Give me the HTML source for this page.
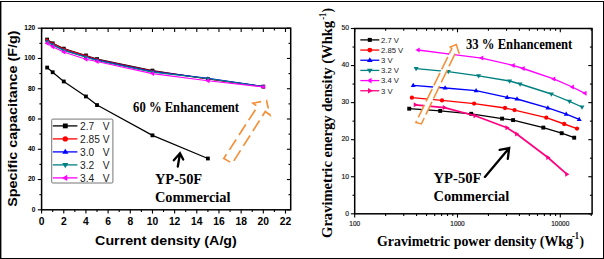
<!DOCTYPE html><html><head><meta charset="utf-8"><style>html,body{margin:0;padding:0;background:#fff;overflow:hidden}svg{display:block}</style></head><body>
<svg width="604" height="259" viewBox="0 0 604 259">
<rect x="0" y="0" width="604" height="259" fill="#fff"/>
<rect x="0" y="1" width="1.4" height="258" fill="#000"/>
<rect x="0" y="1" width="604" height="1" fill="#000"/>
<rect x="603" y="1" width="1" height="258" fill="#000"/>
<rect x="0" y="258" width="604" height="1" fill="#000"/>
<line x1="41.60" y1="209.80" x2="41.60" y2="213.60" stroke="#000" stroke-width="1.1" />
<line x1="41.60" y1="28.20" x2="41.60" y2="32.00" stroke="#000" stroke-width="1.1" />
<line x1="52.69" y1="209.80" x2="52.69" y2="212.00" stroke="#000" stroke-width="1.1" />
<line x1="52.69" y1="28.20" x2="52.69" y2="30.40" stroke="#000" stroke-width="1.1" />
<line x1="63.77" y1="209.80" x2="63.77" y2="213.60" stroke="#000" stroke-width="1.1" />
<line x1="63.77" y1="28.20" x2="63.77" y2="32.00" stroke="#000" stroke-width="1.1" />
<line x1="74.86" y1="209.80" x2="74.86" y2="212.00" stroke="#000" stroke-width="1.1" />
<line x1="74.86" y1="28.20" x2="74.86" y2="30.40" stroke="#000" stroke-width="1.1" />
<line x1="85.94" y1="209.80" x2="85.94" y2="213.60" stroke="#000" stroke-width="1.1" />
<line x1="85.94" y1="28.20" x2="85.94" y2="32.00" stroke="#000" stroke-width="1.1" />
<line x1="97.03" y1="209.80" x2="97.03" y2="212.00" stroke="#000" stroke-width="1.1" />
<line x1="97.03" y1="28.20" x2="97.03" y2="30.40" stroke="#000" stroke-width="1.1" />
<line x1="108.12" y1="209.80" x2="108.12" y2="213.60" stroke="#000" stroke-width="1.1" />
<line x1="108.12" y1="28.20" x2="108.12" y2="32.00" stroke="#000" stroke-width="1.1" />
<line x1="119.20" y1="209.80" x2="119.20" y2="212.00" stroke="#000" stroke-width="1.1" />
<line x1="119.20" y1="28.20" x2="119.20" y2="30.40" stroke="#000" stroke-width="1.1" />
<line x1="130.29" y1="209.80" x2="130.29" y2="213.60" stroke="#000" stroke-width="1.1" />
<line x1="130.29" y1="28.20" x2="130.29" y2="32.00" stroke="#000" stroke-width="1.1" />
<line x1="141.37" y1="209.80" x2="141.37" y2="212.00" stroke="#000" stroke-width="1.1" />
<line x1="141.37" y1="28.20" x2="141.37" y2="30.40" stroke="#000" stroke-width="1.1" />
<line x1="152.46" y1="209.80" x2="152.46" y2="213.60" stroke="#000" stroke-width="1.1" />
<line x1="152.46" y1="28.20" x2="152.46" y2="32.00" stroke="#000" stroke-width="1.1" />
<line x1="163.55" y1="209.80" x2="163.55" y2="212.00" stroke="#000" stroke-width="1.1" />
<line x1="163.55" y1="28.20" x2="163.55" y2="30.40" stroke="#000" stroke-width="1.1" />
<line x1="174.63" y1="209.80" x2="174.63" y2="213.60" stroke="#000" stroke-width="1.1" />
<line x1="174.63" y1="28.20" x2="174.63" y2="32.00" stroke="#000" stroke-width="1.1" />
<line x1="185.72" y1="209.80" x2="185.72" y2="212.00" stroke="#000" stroke-width="1.1" />
<line x1="185.72" y1="28.20" x2="185.72" y2="30.40" stroke="#000" stroke-width="1.1" />
<line x1="196.80" y1="209.80" x2="196.80" y2="213.60" stroke="#000" stroke-width="1.1" />
<line x1="196.80" y1="28.20" x2="196.80" y2="32.00" stroke="#000" stroke-width="1.1" />
<line x1="207.89" y1="209.80" x2="207.89" y2="212.00" stroke="#000" stroke-width="1.1" />
<line x1="207.89" y1="28.20" x2="207.89" y2="30.40" stroke="#000" stroke-width="1.1" />
<line x1="218.98" y1="209.80" x2="218.98" y2="213.60" stroke="#000" stroke-width="1.1" />
<line x1="218.98" y1="28.20" x2="218.98" y2="32.00" stroke="#000" stroke-width="1.1" />
<line x1="230.06" y1="209.80" x2="230.06" y2="212.00" stroke="#000" stroke-width="1.1" />
<line x1="230.06" y1="28.20" x2="230.06" y2="30.40" stroke="#000" stroke-width="1.1" />
<line x1="241.15" y1="209.80" x2="241.15" y2="213.60" stroke="#000" stroke-width="1.1" />
<line x1="241.15" y1="28.20" x2="241.15" y2="32.00" stroke="#000" stroke-width="1.1" />
<line x1="252.23" y1="209.80" x2="252.23" y2="212.00" stroke="#000" stroke-width="1.1" />
<line x1="252.23" y1="28.20" x2="252.23" y2="30.40" stroke="#000" stroke-width="1.1" />
<line x1="263.32" y1="209.80" x2="263.32" y2="213.60" stroke="#000" stroke-width="1.1" />
<line x1="263.32" y1="28.20" x2="263.32" y2="32.00" stroke="#000" stroke-width="1.1" />
<line x1="274.41" y1="209.80" x2="274.41" y2="212.00" stroke="#000" stroke-width="1.1" />
<line x1="274.41" y1="28.20" x2="274.41" y2="30.40" stroke="#000" stroke-width="1.1" />
<line x1="285.49" y1="209.80" x2="285.49" y2="213.60" stroke="#000" stroke-width="1.1" />
<line x1="285.49" y1="28.20" x2="285.49" y2="32.00" stroke="#000" stroke-width="1.1" />
<line x1="37.80" y1="209.80" x2="41.60" y2="209.80" stroke="#000" stroke-width="1.1" />
<line x1="286.90" y1="209.80" x2="290.70" y2="209.80" stroke="#000" stroke-width="1.1" />
<line x1="39.40" y1="194.67" x2="41.60" y2="194.67" stroke="#000" stroke-width="1.1" />
<line x1="288.50" y1="194.67" x2="290.70" y2="194.67" stroke="#000" stroke-width="1.1" />
<line x1="37.80" y1="179.53" x2="41.60" y2="179.53" stroke="#000" stroke-width="1.1" />
<line x1="286.90" y1="179.53" x2="290.70" y2="179.53" stroke="#000" stroke-width="1.1" />
<line x1="39.40" y1="164.40" x2="41.60" y2="164.40" stroke="#000" stroke-width="1.1" />
<line x1="288.50" y1="164.40" x2="290.70" y2="164.40" stroke="#000" stroke-width="1.1" />
<line x1="37.80" y1="149.27" x2="41.60" y2="149.27" stroke="#000" stroke-width="1.1" />
<line x1="286.90" y1="149.27" x2="290.70" y2="149.27" stroke="#000" stroke-width="1.1" />
<line x1="39.40" y1="134.13" x2="41.60" y2="134.13" stroke="#000" stroke-width="1.1" />
<line x1="288.50" y1="134.13" x2="290.70" y2="134.13" stroke="#000" stroke-width="1.1" />
<line x1="37.80" y1="119.00" x2="41.60" y2="119.00" stroke="#000" stroke-width="1.1" />
<line x1="286.90" y1="119.00" x2="290.70" y2="119.00" stroke="#000" stroke-width="1.1" />
<line x1="39.40" y1="103.87" x2="41.60" y2="103.87" stroke="#000" stroke-width="1.1" />
<line x1="288.50" y1="103.87" x2="290.70" y2="103.87" stroke="#000" stroke-width="1.1" />
<line x1="37.80" y1="88.74" x2="41.60" y2="88.74" stroke="#000" stroke-width="1.1" />
<line x1="286.90" y1="88.74" x2="290.70" y2="88.74" stroke="#000" stroke-width="1.1" />
<line x1="39.40" y1="73.60" x2="41.60" y2="73.60" stroke="#000" stroke-width="1.1" />
<line x1="288.50" y1="73.60" x2="290.70" y2="73.60" stroke="#000" stroke-width="1.1" />
<line x1="37.80" y1="58.47" x2="41.60" y2="58.47" stroke="#000" stroke-width="1.1" />
<line x1="286.90" y1="58.47" x2="290.70" y2="58.47" stroke="#000" stroke-width="1.1" />
<line x1="39.40" y1="43.34" x2="41.60" y2="43.34" stroke="#000" stroke-width="1.1" />
<line x1="288.50" y1="43.34" x2="290.70" y2="43.34" stroke="#000" stroke-width="1.1" />
<line x1="37.80" y1="28.20" x2="41.60" y2="28.20" stroke="#000" stroke-width="1.1" />
<line x1="286.90" y1="28.20" x2="290.70" y2="28.20" stroke="#000" stroke-width="1.1" />
<rect x="41.6" y="28.2" width="249.10" height="181.60" fill="none" stroke="#000" stroke-width="1.5"/>
<text x="35.30" y="211.70" font-family="Liberation Sans" font-weight="bold" font-size="6.6" text-anchor="end" fill="#000"  xml:space="preserve">0</text>
<text x="35.30" y="181.43" font-family="Liberation Sans" font-weight="bold" font-size="6.6" text-anchor="end" fill="#000"  xml:space="preserve">20</text>
<text x="35.30" y="151.17" font-family="Liberation Sans" font-weight="bold" font-size="6.6" text-anchor="end" fill="#000"  xml:space="preserve">40</text>
<text x="35.30" y="120.90" font-family="Liberation Sans" font-weight="bold" font-size="6.6" text-anchor="end" fill="#000"  xml:space="preserve">60</text>
<text x="35.30" y="90.64" font-family="Liberation Sans" font-weight="bold" font-size="6.6" text-anchor="end" fill="#000"  xml:space="preserve">80</text>
<text x="35.30" y="60.37" font-family="Liberation Sans" font-weight="bold" font-size="6.6" text-anchor="end" fill="#000"  xml:space="preserve">100</text>
<text x="35.30" y="30.10" font-family="Liberation Sans" font-weight="bold" font-size="6.6" text-anchor="end" fill="#000"  xml:space="preserve">120</text>
<text x="41.60" y="224.70" font-family="Liberation Sans" font-weight="bold" font-size="10.3" text-anchor="middle" fill="#000"  xml:space="preserve">0</text>
<text x="63.77" y="224.70" font-family="Liberation Sans" font-weight="bold" font-size="10.3" text-anchor="middle" fill="#000"  xml:space="preserve">2</text>
<text x="85.94" y="224.70" font-family="Liberation Sans" font-weight="bold" font-size="10.3" text-anchor="middle" fill="#000"  xml:space="preserve">4</text>
<text x="108.12" y="224.70" font-family="Liberation Sans" font-weight="bold" font-size="10.3" text-anchor="middle" fill="#000"  xml:space="preserve">6</text>
<text x="130.29" y="224.70" font-family="Liberation Sans" font-weight="bold" font-size="10.3" text-anchor="middle" fill="#000"  xml:space="preserve">8</text>
<text x="152.46" y="224.70" font-family="Liberation Sans" font-weight="bold" font-size="10.3" text-anchor="middle" fill="#000"  xml:space="preserve">10</text>
<text x="174.63" y="224.70" font-family="Liberation Sans" font-weight="bold" font-size="10.3" text-anchor="middle" fill="#000"  xml:space="preserve">12</text>
<text x="196.80" y="224.70" font-family="Liberation Sans" font-weight="bold" font-size="10.3" text-anchor="middle" fill="#000"  xml:space="preserve">14</text>
<text x="218.98" y="224.70" font-family="Liberation Sans" font-weight="bold" font-size="10.3" text-anchor="middle" fill="#000"  xml:space="preserve">16</text>
<text x="241.15" y="224.70" font-family="Liberation Sans" font-weight="bold" font-size="10.3" text-anchor="middle" fill="#000"  xml:space="preserve">18</text>
<text x="263.32" y="224.70" font-family="Liberation Sans" font-weight="bold" font-size="10.3" text-anchor="middle" fill="#000"  xml:space="preserve">20</text>
<text x="285.49" y="224.70" font-family="Liberation Sans" font-weight="bold" font-size="10.3" text-anchor="middle" fill="#000"  xml:space="preserve">22</text>
<text x="95.10" y="244.70" font-family="Liberation Sans" font-weight="bold" font-size="12.2" text-anchor="start" fill="#000" textLength="141.7" lengthAdjust="spacingAndGlyphs"  xml:space="preserve">Current density (A/g)</text>
<g transform="translate(16.9,206.8) rotate(-90)">
<text x="0.00" y="0.00" font-family="Liberation Sans" font-weight="bold" font-size="12.2" text-anchor="start" fill="#000" textLength="176.4" lengthAdjust="spacingAndGlyphs"  xml:space="preserve">Specific capacitance (F/g)</text>
</g>
<polyline points="47.14,39.55 52.69,43.34 63.77,48.63 85.94,55.44 97.03,59.08 152.46,70.58 207.89,79.05 263.32,86.62" fill="none" stroke="#000000" stroke-width="1.15" stroke-linejoin="round" />
<rect x="45.24" y="37.65" width="3.80" height="3.80" fill="#000000"/>
<rect x="50.79" y="41.44" width="3.80" height="3.80" fill="#000000"/>
<rect x="61.87" y="46.73" width="3.80" height="3.80" fill="#000000"/>
<rect x="84.04" y="53.54" width="3.80" height="3.80" fill="#000000"/>
<rect x="95.13" y="57.18" width="3.80" height="3.80" fill="#000000"/>
<rect x="150.56" y="68.68" width="3.80" height="3.80" fill="#000000"/>
<rect x="205.99" y="77.15" width="3.80" height="3.80" fill="#000000"/>
<rect x="261.42" y="84.72" width="3.80" height="3.80" fill="#000000"/>
<polyline points="47.14,40.16 52.69,43.79 63.77,49.09 85.94,55.90 97.03,59.53 152.46,71.03 207.89,78.75 263.32,86.62" fill="none" stroke="#FF0000" stroke-width="1.15" stroke-linejoin="round" />
<circle cx="47.14" cy="40.16" r="1.65" fill="#FF0000"/>
<circle cx="52.69" cy="43.79" r="1.65" fill="#FF0000"/>
<circle cx="63.77" cy="49.09" r="1.65" fill="#FF0000"/>
<circle cx="85.94" cy="55.90" r="1.65" fill="#FF0000"/>
<circle cx="97.03" cy="59.53" r="1.65" fill="#FF0000"/>
<circle cx="152.46" cy="71.03" r="1.65" fill="#FF0000"/>
<circle cx="207.89" cy="78.75" r="1.65" fill="#FF0000"/>
<circle cx="263.32" cy="86.62" r="1.65" fill="#FF0000"/>
<polyline points="47.14,41.22 52.69,44.70 63.77,50.00 85.94,56.81 97.03,60.13 152.46,71.64 207.89,78.29 263.32,86.47" fill="none" stroke="#0000FF" stroke-width="1.15" stroke-linejoin="round" />
<polygon points="47.14,39.19 45.22,42.43 49.07,42.43" fill="#0000FF"/>
<polygon points="52.69,42.67 50.76,45.91 54.61,45.91" fill="#0000FF"/>
<polygon points="63.77,47.97 61.85,51.21 65.70,51.21" fill="#0000FF"/>
<polygon points="85.94,54.78 84.02,58.02 87.87,58.02" fill="#0000FF"/>
<polygon points="97.03,58.11 95.11,61.35 98.95,61.35" fill="#0000FF"/>
<polygon points="152.46,69.61 150.54,72.85 154.38,72.85" fill="#0000FF"/>
<polygon points="207.89,76.27 205.97,79.51 209.81,79.51" fill="#0000FF"/>
<polygon points="263.32,84.44 261.40,87.68 265.24,87.68" fill="#0000FF"/>
<polyline points="47.14,41.60 52.69,45.08 63.77,50.37 85.94,57.18 97.03,60.51 152.46,72.09 207.89,78.52 263.32,86.62" fill="none" stroke="#008080" stroke-width="1.15" stroke-linejoin="round" />
<polygon points="47.14,43.62 45.22,40.38 49.07,40.38" fill="#008080"/>
<polygon points="52.69,47.10 50.76,43.86 54.61,43.86" fill="#008080"/>
<polygon points="63.77,52.40 61.85,49.16 65.70,49.16" fill="#008080"/>
<polygon points="85.94,59.21 84.02,55.97 87.87,55.97" fill="#008080"/>
<polygon points="97.03,62.54 95.11,59.30 98.95,59.30" fill="#008080"/>
<polygon points="152.46,74.11 150.54,70.87 154.38,70.87" fill="#008080"/>
<polygon points="207.89,80.55 205.97,77.31 209.81,77.31" fill="#008080"/>
<polygon points="263.32,88.64 261.40,85.40 265.24,85.40" fill="#008080"/>
<polyline points="47.14,43.34 52.69,46.82 63.77,51.96 85.94,59.23 97.03,61.50 152.46,73.60 207.89,80.72 263.32,86.92" fill="none" stroke="#FF00FF" stroke-width="1.15" stroke-linejoin="round" />
<polygon points="44.58,43.34 48.68,40.90 48.68,45.77" fill="#FF00FF"/>
<polygon points="50.12,46.82 54.23,44.38 54.23,49.25" fill="#FF00FF"/>
<polygon points="61.21,51.96 65.31,49.53 65.31,54.40" fill="#FF00FF"/>
<polygon points="83.38,59.23 87.48,56.79 87.48,61.66" fill="#FF00FF"/>
<polygon points="94.47,61.50 98.57,59.06 98.57,63.93" fill="#FF00FF"/>
<polygon points="149.90,73.60 154.00,71.17 154.00,76.04" fill="#FF00FF"/>
<polygon points="205.32,80.72 209.43,78.28 209.43,83.15" fill="#FF00FF"/>
<polygon points="260.75,86.92 264.86,84.48 264.86,89.36" fill="#FF00FF"/>
<polyline points="47.14,67.55 52.69,72.24 63.77,81.47 85.94,96.45 97.03,105.08 152.46,135.35 207.89,158.50" fill="none" stroke="#000000" stroke-width="1.2" stroke-linejoin="round" />
<rect x="45.24" y="65.65" width="3.80" height="3.80" fill="#000000"/>
<rect x="50.79" y="70.34" width="3.80" height="3.80" fill="#000000"/>
<rect x="61.87" y="79.57" width="3.80" height="3.80" fill="#000000"/>
<rect x="84.04" y="94.55" width="3.80" height="3.80" fill="#000000"/>
<rect x="95.13" y="103.18" width="3.80" height="3.80" fill="#000000"/>
<rect x="150.56" y="133.45" width="3.80" height="3.80" fill="#000000"/>
<rect x="205.99" y="156.60" width="3.80" height="3.80" fill="#000000"/>
<rect x="51.7" y="119.1" width="61.2" height="63.9" rx="1" fill="#fff" stroke="#777" stroke-width="1"/>
<line x1="52.80" y1="125.90" x2="77.40" y2="125.90" stroke="#000000" stroke-width="1.3" />
<rect x="62.90" y="123.50" width="4.80" height="4.80" fill="#000000"/>
<text x="80.00" y="129.60" font-family="Liberation Sans" font-weight="normal" font-size="10.2" text-anchor="start" fill="#222"  xml:space="preserve">2.7   V</text>
<line x1="52.80" y1="138.90" x2="77.40" y2="138.90" stroke="#FF0000" stroke-width="1.3" />
<circle cx="65.30" cy="138.90" r="2.64" fill="#FF0000"/>
<text x="80.00" y="142.60" font-family="Liberation Sans" font-weight="normal" font-size="10.2" text-anchor="start" fill="#222"  xml:space="preserve">2.85 V</text>
<line x1="52.80" y1="151.90" x2="77.40" y2="151.90" stroke="#0000FF" stroke-width="1.3" />
<polygon points="65.30,148.66 62.22,153.84 68.38,153.84" fill="#0000FF"/>
<text x="80.00" y="155.60" font-family="Liberation Sans" font-weight="normal" font-size="10.2" text-anchor="start" fill="#222"  xml:space="preserve">3.0   V</text>
<line x1="52.80" y1="164.90" x2="77.40" y2="164.90" stroke="#008080" stroke-width="1.3" />
<polygon points="65.30,168.14 62.22,162.96 68.38,162.96" fill="#008080"/>
<text x="80.00" y="168.60" font-family="Liberation Sans" font-weight="normal" font-size="10.2" text-anchor="start" fill="#222"  xml:space="preserve">3.2   V</text>
<line x1="52.80" y1="177.90" x2="77.40" y2="177.90" stroke="#FF00FF" stroke-width="1.3" />
<polygon points="62.06,177.90 67.24,174.82 67.24,180.98" fill="#FF00FF"/>
<text x="80.00" y="181.60" font-family="Liberation Sans" font-weight="normal" font-size="10.2" text-anchor="start" fill="#222"  xml:space="preserve">3.4   V</text>
<text x="133.10" y="111.60" font-family="Liberation Serif" font-weight="bold" font-size="14.3" text-anchor="start" fill="#000" textLength="106" lengthAdjust="spacingAndGlyphs"  xml:space="preserve">60 % Enhancement</text>
<text x="154.90" y="184.20" font-family="Liberation Serif" font-weight="bold" font-size="15.2" text-anchor="start" fill="#000" textLength="47.3" lengthAdjust="spacingAndGlyphs"  xml:space="preserve">YP-50F</text>
<text x="154.90" y="202.40" font-family="Liberation Serif" font-weight="bold" font-size="15.2" text-anchor="start" fill="#000" textLength="75.6" lengthAdjust="spacingAndGlyphs"  xml:space="preserve">Commercial</text>
<path d="M177.8,166.5 L180,153.5 M173.8,160.3 L180,153.3 L183.2,159.5" fill="none" stroke="#000" stroke-width="2.3" stroke-linecap="round" stroke-linejoin="miter"/>
<path d="M266.50,100.50 L253.00,103.20 L257.50,106.50 L223.80,158.50 L232.30,163.30 L265.30,111.50 L269.90,114.90 Z" fill="#fff" stroke="#F5903A" stroke-width="1.7" stroke-dasharray="12.4 5.3" stroke-dashoffset="12.2" stroke-linejoin="miter"/>
<line x1="354.70" y1="213.80" x2="354.70" y2="217.60" stroke="#000" stroke-width="1.1" />
<line x1="354.70" y1="28.50" x2="354.70" y2="32.30" stroke="#000" stroke-width="1.1" />
<line x1="385.65" y1="213.80" x2="385.65" y2="216.00" stroke="#000" stroke-width="1.1" />
<line x1="385.65" y1="28.50" x2="385.65" y2="30.70" stroke="#000" stroke-width="1.1" />
<line x1="403.75" y1="213.80" x2="403.75" y2="216.00" stroke="#000" stroke-width="1.1" />
<line x1="403.75" y1="28.50" x2="403.75" y2="30.70" stroke="#000" stroke-width="1.1" />
<line x1="416.59" y1="213.80" x2="416.59" y2="216.00" stroke="#000" stroke-width="1.1" />
<line x1="416.59" y1="28.50" x2="416.59" y2="30.70" stroke="#000" stroke-width="1.1" />
<line x1="426.55" y1="213.80" x2="426.55" y2="216.00" stroke="#000" stroke-width="1.1" />
<line x1="426.55" y1="28.50" x2="426.55" y2="30.70" stroke="#000" stroke-width="1.1" />
<line x1="434.69" y1="213.80" x2="434.69" y2="216.00" stroke="#000" stroke-width="1.1" />
<line x1="434.69" y1="28.50" x2="434.69" y2="30.70" stroke="#000" stroke-width="1.1" />
<line x1="441.58" y1="213.80" x2="441.58" y2="216.00" stroke="#000" stroke-width="1.1" />
<line x1="441.58" y1="28.50" x2="441.58" y2="30.70" stroke="#000" stroke-width="1.1" />
<line x1="447.54" y1="213.80" x2="447.54" y2="216.00" stroke="#000" stroke-width="1.1" />
<line x1="447.54" y1="28.50" x2="447.54" y2="30.70" stroke="#000" stroke-width="1.1" />
<line x1="452.80" y1="213.80" x2="452.80" y2="216.00" stroke="#000" stroke-width="1.1" />
<line x1="452.80" y1="28.50" x2="452.80" y2="30.70" stroke="#000" stroke-width="1.1" />
<line x1="457.50" y1="213.80" x2="457.50" y2="217.60" stroke="#000" stroke-width="1.1" />
<line x1="457.50" y1="28.50" x2="457.50" y2="32.30" stroke="#000" stroke-width="1.1" />
<line x1="488.45" y1="213.80" x2="488.45" y2="216.00" stroke="#000" stroke-width="1.1" />
<line x1="488.45" y1="28.50" x2="488.45" y2="30.70" stroke="#000" stroke-width="1.1" />
<line x1="506.55" y1="213.80" x2="506.55" y2="216.00" stroke="#000" stroke-width="1.1" />
<line x1="506.55" y1="28.50" x2="506.55" y2="30.70" stroke="#000" stroke-width="1.1" />
<line x1="519.39" y1="213.80" x2="519.39" y2="216.00" stroke="#000" stroke-width="1.1" />
<line x1="519.39" y1="28.50" x2="519.39" y2="30.70" stroke="#000" stroke-width="1.1" />
<line x1="529.35" y1="213.80" x2="529.35" y2="216.00" stroke="#000" stroke-width="1.1" />
<line x1="529.35" y1="28.50" x2="529.35" y2="30.70" stroke="#000" stroke-width="1.1" />
<line x1="537.49" y1="213.80" x2="537.49" y2="216.00" stroke="#000" stroke-width="1.1" />
<line x1="537.49" y1="28.50" x2="537.49" y2="30.70" stroke="#000" stroke-width="1.1" />
<line x1="544.38" y1="213.80" x2="544.38" y2="216.00" stroke="#000" stroke-width="1.1" />
<line x1="544.38" y1="28.50" x2="544.38" y2="30.70" stroke="#000" stroke-width="1.1" />
<line x1="550.34" y1="213.80" x2="550.34" y2="216.00" stroke="#000" stroke-width="1.1" />
<line x1="550.34" y1="28.50" x2="550.34" y2="30.70" stroke="#000" stroke-width="1.1" />
<line x1="555.60" y1="213.80" x2="555.60" y2="216.00" stroke="#000" stroke-width="1.1" />
<line x1="555.60" y1="28.50" x2="555.60" y2="30.70" stroke="#000" stroke-width="1.1" />
<line x1="560.30" y1="213.80" x2="560.30" y2="217.60" stroke="#000" stroke-width="1.1" />
<line x1="560.30" y1="28.50" x2="560.30" y2="32.30" stroke="#000" stroke-width="1.1" />
<line x1="591.25" y1="213.80" x2="591.25" y2="216.00" stroke="#000" stroke-width="1.1" />
<line x1="591.25" y1="28.50" x2="591.25" y2="30.70" stroke="#000" stroke-width="1.1" />
<line x1="350.90" y1="213.80" x2="354.70" y2="213.80" stroke="#000" stroke-width="1.1" />
<line x1="588.30" y1="213.80" x2="592.10" y2="213.80" stroke="#000" stroke-width="1.1" />
<line x1="352.50" y1="195.27" x2="354.70" y2="195.27" stroke="#000" stroke-width="1.1" />
<line x1="589.90" y1="195.27" x2="592.10" y2="195.27" stroke="#000" stroke-width="1.1" />
<line x1="350.90" y1="176.74" x2="354.70" y2="176.74" stroke="#000" stroke-width="1.1" />
<line x1="588.30" y1="176.74" x2="592.10" y2="176.74" stroke="#000" stroke-width="1.1" />
<line x1="352.50" y1="158.21" x2="354.70" y2="158.21" stroke="#000" stroke-width="1.1" />
<line x1="589.90" y1="158.21" x2="592.10" y2="158.21" stroke="#000" stroke-width="1.1" />
<line x1="350.90" y1="139.68" x2="354.70" y2="139.68" stroke="#000" stroke-width="1.1" />
<line x1="588.30" y1="139.68" x2="592.10" y2="139.68" stroke="#000" stroke-width="1.1" />
<line x1="352.50" y1="121.15" x2="354.70" y2="121.15" stroke="#000" stroke-width="1.1" />
<line x1="589.90" y1="121.15" x2="592.10" y2="121.15" stroke="#000" stroke-width="1.1" />
<line x1="350.90" y1="102.62" x2="354.70" y2="102.62" stroke="#000" stroke-width="1.1" />
<line x1="588.30" y1="102.62" x2="592.10" y2="102.62" stroke="#000" stroke-width="1.1" />
<line x1="352.50" y1="84.09" x2="354.70" y2="84.09" stroke="#000" stroke-width="1.1" />
<line x1="589.90" y1="84.09" x2="592.10" y2="84.09" stroke="#000" stroke-width="1.1" />
<line x1="350.90" y1="65.56" x2="354.70" y2="65.56" stroke="#000" stroke-width="1.1" />
<line x1="588.30" y1="65.56" x2="592.10" y2="65.56" stroke="#000" stroke-width="1.1" />
<line x1="352.50" y1="47.03" x2="354.70" y2="47.03" stroke="#000" stroke-width="1.1" />
<line x1="589.90" y1="47.03" x2="592.10" y2="47.03" stroke="#000" stroke-width="1.1" />
<line x1="350.90" y1="28.50" x2="354.70" y2="28.50" stroke="#000" stroke-width="1.1" />
<line x1="588.30" y1="28.50" x2="592.10" y2="28.50" stroke="#000" stroke-width="1.1" />
<rect x="354.7" y="28.5" width="237.40" height="185.30" fill="none" stroke="#000" stroke-width="1.5"/>
<text x="349.00" y="215.60" font-family="Liberation Sans" font-weight="normal" font-size="6.8" text-anchor="end" fill="#111" stroke="#111" stroke-width="0.15" xml:space="preserve">0</text>
<text x="349.00" y="178.54" font-family="Liberation Sans" font-weight="normal" font-size="6.8" text-anchor="end" fill="#111" stroke="#111" stroke-width="0.15" xml:space="preserve">10</text>
<text x="349.00" y="141.48" font-family="Liberation Sans" font-weight="normal" font-size="6.8" text-anchor="end" fill="#111" stroke="#111" stroke-width="0.15" xml:space="preserve">20</text>
<text x="349.00" y="104.42" font-family="Liberation Sans" font-weight="normal" font-size="6.8" text-anchor="end" fill="#111" stroke="#111" stroke-width="0.15" xml:space="preserve">30</text>
<text x="349.00" y="67.36" font-family="Liberation Sans" font-weight="normal" font-size="6.8" text-anchor="end" fill="#111" stroke="#111" stroke-width="0.15" xml:space="preserve">40</text>
<text x="349.00" y="30.30" font-family="Liberation Sans" font-weight="normal" font-size="6.8" text-anchor="end" fill="#111" stroke="#111" stroke-width="0.15" xml:space="preserve">50</text>
<text x="354.70" y="225.70" font-family="Liberation Sans" font-weight="normal" font-size="6.5" text-anchor="middle" fill="#111" stroke="#111" stroke-width="0.15" xml:space="preserve">100</text>
<text x="457.50" y="225.70" font-family="Liberation Sans" font-weight="normal" font-size="6.5" text-anchor="middle" fill="#111" stroke="#111" stroke-width="0.15" xml:space="preserve">1000</text>
<text x="560.30" y="225.70" font-family="Liberation Sans" font-weight="normal" font-size="6.5" text-anchor="middle" fill="#111" stroke="#111" stroke-width="0.15" xml:space="preserve">10000</text>
<polyline points="409.20,108.70 440.20,110.90 471.20,113.80 502.10,118.60 513.10,120.10 543.30,127.60 561.70,133.20 574.20,137.70" fill="none" stroke="#000000" stroke-width="1.35" stroke-linejoin="round" />
<rect x="407.25" y="106.75" width="3.90" height="3.90" fill="#000000"/>
<rect x="438.25" y="108.95" width="3.90" height="3.90" fill="#000000"/>
<rect x="469.25" y="111.85" width="3.90" height="3.90" fill="#000000"/>
<rect x="500.15" y="116.65" width="3.90" height="3.90" fill="#000000"/>
<rect x="511.15" y="118.15" width="3.90" height="3.90" fill="#000000"/>
<rect x="541.35" y="125.65" width="3.90" height="3.90" fill="#000000"/>
<rect x="559.75" y="131.25" width="3.90" height="3.90" fill="#000000"/>
<rect x="572.25" y="135.75" width="3.90" height="3.90" fill="#000000"/>
<polyline points="411.90,97.70 442.00,100.40 474.10,103.60 505.00,108.00 514.50,110.10 546.30,117.70 564.20,124.00 577.00,128.60" fill="none" stroke="#FF0000" stroke-width="1.35" stroke-linejoin="round" />
<circle cx="411.90" cy="97.70" r="2.15" fill="#FF0000"/>
<circle cx="442.00" cy="100.40" r="2.15" fill="#FF0000"/>
<circle cx="474.10" cy="103.60" r="2.15" fill="#FF0000"/>
<circle cx="505.00" cy="108.00" r="2.15" fill="#FF0000"/>
<circle cx="514.50" cy="110.10" r="2.15" fill="#FF0000"/>
<circle cx="546.30" cy="117.70" r="2.15" fill="#FF0000"/>
<circle cx="564.20" cy="124.00" r="2.15" fill="#FF0000"/>
<circle cx="577.00" cy="128.60" r="2.15" fill="#FF0000"/>
<polyline points="413.20,85.40 445.10,88.00 476.10,90.60 507.20,97.30 517.00,99.00 547.90,107.80 566.20,114.10 579.20,119.40" fill="none" stroke="#0000FF" stroke-width="1.35" stroke-linejoin="round" />
<polygon points="413.20,82.77 410.70,86.98 415.70,86.98" fill="#0000FF"/>
<polygon points="445.10,85.37 442.60,89.58 447.60,89.58" fill="#0000FF"/>
<polygon points="476.10,87.97 473.60,92.18 478.60,92.18" fill="#0000FF"/>
<polygon points="507.20,94.67 504.70,98.88 509.70,98.88" fill="#0000FF"/>
<polygon points="517.00,96.37 514.50,100.58 519.50,100.58" fill="#0000FF"/>
<polygon points="547.90,105.17 545.40,109.38 550.40,109.38" fill="#0000FF"/>
<polygon points="566.20,111.47 563.70,115.68 568.70,115.68" fill="#0000FF"/>
<polygon points="579.20,116.77 576.70,120.98 581.70,120.98" fill="#0000FF"/>
<polyline points="416.10,68.60 448.30,71.70 478.60,75.90 509.60,81.00 520.10,84.00 551.40,94.00 569.50,101.40 582.00,107.00" fill="none" stroke="#008080" stroke-width="1.35" stroke-linejoin="round" />
<polygon points="416.10,71.23 413.60,67.02 418.60,67.02" fill="#008080"/>
<polygon points="448.30,74.33 445.80,70.12 450.80,70.12" fill="#008080"/>
<polygon points="478.60,78.53 476.10,74.32 481.10,74.32" fill="#008080"/>
<polygon points="509.60,83.63 507.10,79.42 512.10,79.42" fill="#008080"/>
<polygon points="520.10,86.63 517.60,82.42 522.60,82.42" fill="#008080"/>
<polygon points="551.40,96.63 548.90,92.42 553.90,92.42" fill="#008080"/>
<polygon points="569.50,104.03 567.00,99.82 572.00,99.82" fill="#008080"/>
<polygon points="582.00,109.63 579.50,105.42 584.50,105.42" fill="#008080"/>
<polyline points="418.10,50.00 450.00,54.20 481.70,58.10 513.10,65.40 523.10,68.50 553.70,78.90 572.30,87.00 585.00,93.30" fill="none" stroke="#FF00FF" stroke-width="1.35" stroke-linejoin="round" />
<polygon points="415.47,50.00 419.68,47.50 419.68,52.50" fill="#FF00FF"/>
<polygon points="447.37,54.20 451.58,51.70 451.58,56.70" fill="#FF00FF"/>
<polygon points="479.07,58.10 483.28,55.60 483.28,60.60" fill="#FF00FF"/>
<polygon points="510.47,65.40 514.68,62.90 514.68,67.90" fill="#FF00FF"/>
<polygon points="520.47,68.50 524.68,66.00 524.68,71.00" fill="#FF00FF"/>
<polygon points="551.07,78.90 555.28,76.40 555.28,81.40" fill="#FF00FF"/>
<polygon points="569.67,87.00 573.88,84.50 573.88,89.50" fill="#FF00FF"/>
<polygon points="582.37,93.30 586.58,90.80 586.58,95.80" fill="#FF00FF"/>
<polyline points="415.30,104.80 444.40,107.60 475.10,115.70 507.00,127.80 516.70,134.00 547.90,157.50 566.80,174.20" fill="none" stroke="#FF0080" stroke-width="1.7" stroke-linejoin="round" />
<polygon points="417.93,104.80 413.72,102.30 413.72,107.30" fill="#FF0080"/>
<polygon points="447.03,107.60 442.82,105.10 442.82,110.10" fill="#FF0080"/>
<polygon points="477.73,115.70 473.52,113.20 473.52,118.20" fill="#FF0080"/>
<polygon points="509.63,127.80 505.42,125.30 505.42,130.30" fill="#FF0080"/>
<polygon points="519.33,134.00 515.12,131.50 515.12,136.50" fill="#FF0080"/>
<polygon points="550.53,157.50 546.32,155.00 546.32,160.00" fill="#FF0080"/>
<polygon points="569.43,174.20 565.22,171.70 565.22,176.70" fill="#FF0080"/>
<line x1="360.30" y1="39.90" x2="379.30" y2="39.90" stroke="#000000" stroke-width="1.3" />
<rect x="367.80" y="37.90" width="4.00" height="4.00" fill="#000000"/>
<text x="381.00" y="42.80" font-family="Liberation Sans" font-weight="normal" font-size="7.7" text-anchor="start" fill="#222"  xml:space="preserve">2.7 V</text>
<line x1="360.30" y1="50.07" x2="379.30" y2="50.07" stroke="#FF0000" stroke-width="1.3" />
<circle cx="369.80" cy="50.07" r="2.42" fill="#FF0000"/>
<text x="381.00" y="52.97" font-family="Liberation Sans" font-weight="normal" font-size="7.7" text-anchor="start" fill="#222"  xml:space="preserve">2.85 V</text>
<line x1="360.30" y1="60.24" x2="379.30" y2="60.24" stroke="#0000FF" stroke-width="1.3" />
<polygon points="369.80,57.27 366.98,62.02 372.62,62.02" fill="#0000FF"/>
<text x="381.00" y="63.14" font-family="Liberation Sans" font-weight="normal" font-size="7.7" text-anchor="start" fill="#222"  xml:space="preserve">3 V</text>
<line x1="360.30" y1="70.41" x2="379.30" y2="70.41" stroke="#008080" stroke-width="1.3" />
<polygon points="369.80,73.38 366.98,68.63 372.62,68.63" fill="#008080"/>
<text x="381.00" y="73.31" font-family="Liberation Sans" font-weight="normal" font-size="7.7" text-anchor="start" fill="#222"  xml:space="preserve">3.2 V</text>
<line x1="360.30" y1="80.58" x2="379.30" y2="80.58" stroke="#FF00FF" stroke-width="1.3" />
<polygon points="366.83,80.58 371.58,77.76 371.58,83.40" fill="#FF00FF"/>
<text x="381.00" y="83.48" font-family="Liberation Sans" font-weight="normal" font-size="7.7" text-anchor="start" fill="#222"  xml:space="preserve">3.4 V</text>
<line x1="360.30" y1="90.75" x2="379.30" y2="90.75" stroke="#FF0080" stroke-width="1.3" />
<polygon points="372.77,90.75 368.02,87.93 368.02,93.57" fill="#FF0080"/>
<text x="381.00" y="93.65" font-family="Liberation Sans" font-weight="normal" font-size="7.7" text-anchor="start" fill="#222"  xml:space="preserve">3 V</text>
<text x="466.00" y="49.40" font-family="Liberation Serif" font-weight="bold" font-size="14.3" text-anchor="start" fill="#000" textLength="106.3" lengthAdjust="spacingAndGlyphs"  xml:space="preserve">33 % Enhancement</text>
<text x="433.50" y="182.60" font-family="Liberation Serif" font-weight="bold" font-size="15.2" text-anchor="start" fill="#000" textLength="48.1" lengthAdjust="spacingAndGlyphs"  xml:space="preserve">YP-50F</text>
<text x="433.50" y="200.90" font-family="Liberation Serif" font-weight="bold" font-size="15.2" text-anchor="start" fill="#000" textLength="75.7" lengthAdjust="spacingAndGlyphs"  xml:space="preserve">Commercial</text>
<path d="M484.9,176.9 L509,148.2 M499.7,149.9 L509.2,148 L507.8,158.8" fill="none" stroke="#000" stroke-width="2.3" stroke-linecap="round"/>
<path d="M456.30,44.60 L450.30,47.00 L451.80,48.60 L415.90,122.40 L421.40,123.90 L455.00,53.80 L459.00,53.20 Z" fill="#fff" stroke="#F5903A" stroke-width="1.55" stroke-dasharray="14 3.8" stroke-dashoffset="0" stroke-linejoin="miter"/>
<text x="377.00" y="245.60" font-family="Liberation Serif" font-weight="bold" font-size="13.6" text-anchor="start" fill="#000" textLength="196" lengthAdjust="spacingAndGlyphs"  xml:space="preserve">Gravimetric power density (Wkg</text>
<text x="572.00" y="238.60" font-family="Liberation Serif" font-weight="bold" font-size="9.5" text-anchor="start" fill="#000" textLength="7.0" lengthAdjust="spacingAndGlyphs"  xml:space="preserve">-1</text>
<text x="579.50" y="245.60" font-family="Liberation Serif" font-weight="bold" font-size="13.6" text-anchor="start" fill="#000"  xml:space="preserve">)</text>
<g transform="translate(332.3,237.9) rotate(-90)">
<text x="0.00" y="0.00" font-family="Liberation Serif" font-weight="bold" font-size="13.6" text-anchor="start" fill="#000" textLength="217" lengthAdjust="spacingAndGlyphs"  xml:space="preserve">Gravimetric energy density (Whkg</text>
<text x="218.20" y="-6.30" font-family="Liberation Serif" font-weight="bold" font-size="9.5" text-anchor="start" fill="#000" textLength="7.0" lengthAdjust="spacingAndGlyphs"  xml:space="preserve">-1</text>
<text x="225.30" y="0.00" font-family="Liberation Serif" font-weight="bold" font-size="13.6" text-anchor="start" fill="#000"  xml:space="preserve">)</text>
</g>
</svg></body></html>
